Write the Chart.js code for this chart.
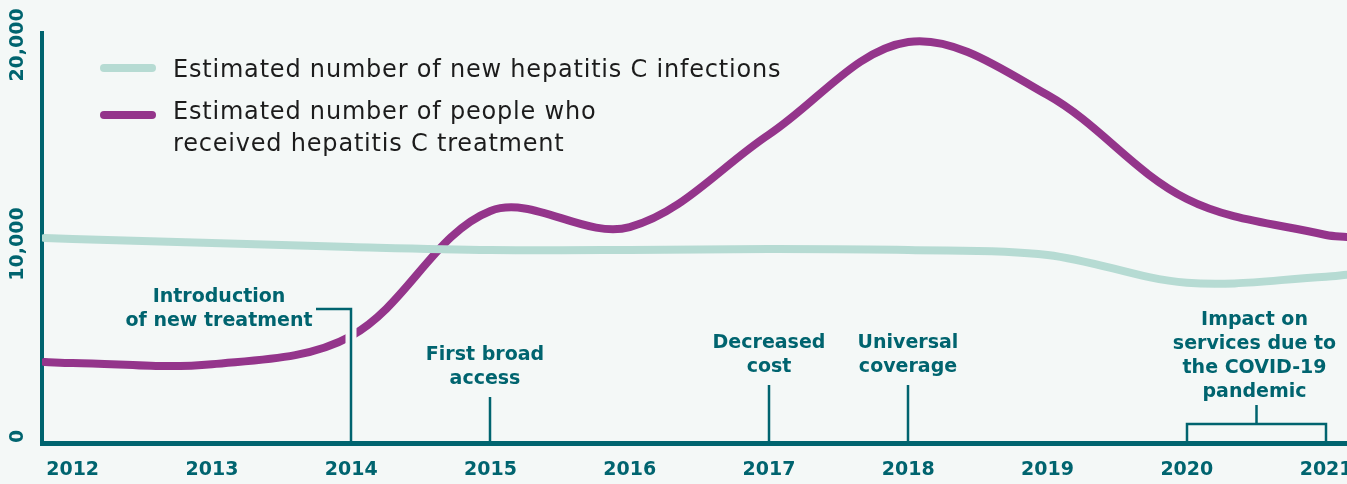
<!DOCTYPE html>
<html>
<head>
<meta charset="utf-8">
<script src="https://cdn.jsdelivr.net/npm/chart.js@4.4.1/dist/chart.umd.min.js"></script>
<style>
    html, body { margin: 0; padding: 0; background: #f4f8f7; }
    #wrap { width: 1347px; height: 484px; }
</style>
</head>
<body>
<div id="wrap"><canvas id="hepChart" width="1347" height="484"></canvas></div>
<script>
/* Hepatitis C: new infections vs. people treated, 2012-2021 */

// x positions in years (first/last points are where the curves meet the plot edges)
const years = [2011.8, 2012, 2013, 2014, 2015, 2016, 2017, 2018, 2019, 2020, 2021, 2021.15];
const newInfections = [10300, 10250, 10050, 9850, 9700, 9700, 9750, 9700, 9450, 8050, 8350, 8450];
const treated = [4070, 4020, 3960, 5380, 11660, 10850, 15500, 20150, 17480, 12260, 10450, 10350];

// axis ticks
const yearTicks = [2012, 2013, 2014, 2015, 2016, 2017, 2018, 2019, 2020, 2021];
const valueTicks = [0, 10000, 20000];

const legendLabels = [
    ['Estimated number of new hepatitis C infections'],
    ['Estimated number of people who', 'received hepatitis C treatment']
];

// timeline events: start year, end year (a range gets a bracket) and label lines
const eventStart = [2014, 2015, 2017, 2018, 2020];
const eventEnd = [2014, 2015, 2017, 2018, 2021];
const eventLabels = [
    ['Introduction', 'of new treatment'],
    ['First broad', 'access'],
    ['Decreased', 'cost'],
    ['Universal', 'coverage'],
    ['Impact on', 'services due to', 'the COVID-19', 'pandemic']
];

// layout of the event labels (pixels)
const eventLayout = [
    { dx: -132, textY: 297, stemTop: 309, hook: -35, halo: true },
    { dx: -5, textY: 355, stemTop: 397 },
    { dx: 0, textY: 343, stemTop: 385 },
    { dx: 0, textY: 343, stemTop: 385 },
    { dx: -2, textY: 320, stemTop: 405, bracketY: 424 }
];

const COLORS = {
    bg: '#f4f8f7',
    axis: '#00646f',
    infections: '#b6dbd3',
    treated: '#94358b',
    text: '#1c1c1c'
};
const FONT = '"DejaVu Sans", sans-serif';

const bgPlugin = {
    id: 'bg',
    beforeDraw(chart) {
        const c = chart.ctx;
        c.save();
        c.fillStyle = COLORS.bg;
        c.fillRect(0, 0, chart.width, chart.height);
        c.restore();
    }
};

const overlayPlugin = {
    id: 'overlay',
    afterDatasetsDraw(chart) {
        const c = chart.ctx;
        const xs = chart.scales.x, ys = chart.scales.y;
        const base = ys.getPixelForValue(0);
        c.save();

        // event markers
        c.strokeStyle = COLORS.axis;
        c.lineWidth = 2.5;
        c.lineCap = 'butt';
        eventLabels.forEach((lines, i) => {
            const lay = eventLayout[i];
            const x0 = Math.round(xs.getPixelForValue(eventStart[i]));
            const x1 = Math.round(xs.getPixelForValue(eventEnd[i]));
            const mid = (x0 + x1) / 2;

            if (lay.bracketY) {
                c.beginPath();
                c.moveTo(mid, lay.stemTop); c.lineTo(mid, lay.bracketY);
                c.moveTo(x0, base - 2); c.lineTo(x0, lay.bracketY); c.lineTo(x1, lay.bracketY); c.lineTo(x1, base - 2);
                c.stroke();
            } else {
                if (lay.halo) {
                    c.save();
                    c.strokeStyle = COLORS.bg;
                    c.lineWidth = 11;
                    c.beginPath(); c.moveTo(x0, lay.stemTop + 4); c.lineTo(x0, base - 4); c.stroke();
                    c.restore();
                }
                c.beginPath();
                if (lay.hook) { c.moveTo(x0 + lay.hook, lay.stemTop); c.lineTo(x0, lay.stemTop); }
                else c.moveTo(x0, lay.stemTop);
                c.lineTo(x0, base - 2);
                c.stroke();
            }

            c.fillStyle = COLORS.axis;
            c.font = 'bold 19px ' + FONT;
            c.textAlign = 'center';
            c.textBaseline = 'middle';
            lines.forEach((t, j) => c.fillText(t, mid + lay.dx, lay.textY + j * 24));
        });

        // x tick labels
        c.font = 'bold 19px ' + FONT;
        c.fillStyle = COLORS.axis;
        c.textAlign = 'center';
        c.textBaseline = 'middle';
        yearTicks.forEach(y => c.fillText(String(y), xs.getPixelForValue(y), 470));

        // y tick labels, rotated
        valueTicks.forEach(v => {
            const label = v.toLocaleString('en-US');
            const w = c.measureText(label).width;
            let cy = ys.getPixelForValue(v);
            cy = Math.min(cy, base - w / 2);
            c.save();
            c.translate(18, cy);
            c.rotate(-Math.PI / 2);
            c.fillText(label, 0, 0);
            c.restore();
        });

        // legend
        const swatchY = [68, 115];
        const textY = [[71], [113, 145]];
        const swatchColors = [COLORS.infections, COLORS.treated];
        c.font = '24px ' + FONT;
        c.letterSpacing = '0.8px';
        c.textAlign = 'left';
        c.fillStyle = COLORS.text;
        legendLabels.forEach((lines, i) => {
            c.strokeStyle = swatchColors[i];
            c.lineWidth = 8;
            c.lineCap = 'round';
            c.beginPath(); c.moveTo(104, swatchY[i]); c.lineTo(152, swatchY[i]); c.stroke();
            lines.forEach((t, j) => c.fillText(t, 173, textY[i][j]));
        });
        c.restore();
    }
};

const points = vals => years.map((x, i) => ({ x, y: vals[i] }));

new Chart(document.getElementById('hepChart'), {
    type: 'line',
    data: {
        datasets: [
            { label: legendLabels[0].join(' '), data: points(newInfections), borderColor: COLORS.infections,
              borderWidth: 8, pointRadius: 0, tension: 0.35, borderCapStyle: 'round' },
            { label: legendLabels[1].join(' '), data: points(treated), borderColor: COLORS.treated,
              borderWidth: 8, pointRadius: 0, tension: 0.35, borderCapStyle: 'round' }
        ]
    },
    options: {
        responsive: false, animation: false, events: [],
        layout: { padding: { left: 42, right: 0, top: 33, bottom: 41 } },
        plugins: { legend: { display: false }, tooltip: { enabled: false } },
        scales: {
            x: {
                type: 'linear', min: 2011.78, max: 2021.15,
                grid: { display: false, drawTicks: false },
                border: { display: true, color: COLORS.axis, width: 5 },
                ticks: { display: false },
                afterBuildTicks: s => { s.ticks = yearTicks.map(v => ({ value: v })); }
            },
            y: {
                min: 0, max: 20600,
                grid: { display: false, drawTicks: false },
                border: { display: true, color: COLORS.axis, width: 4 },
                ticks: { display: false },
                afterBuildTicks: s => { s.ticks = valueTicks.map(v => ({ value: v })); }
            }
        }
    },
    plugins: [bgPlugin, overlayPlugin]
});
</script>
</body>
</html>
